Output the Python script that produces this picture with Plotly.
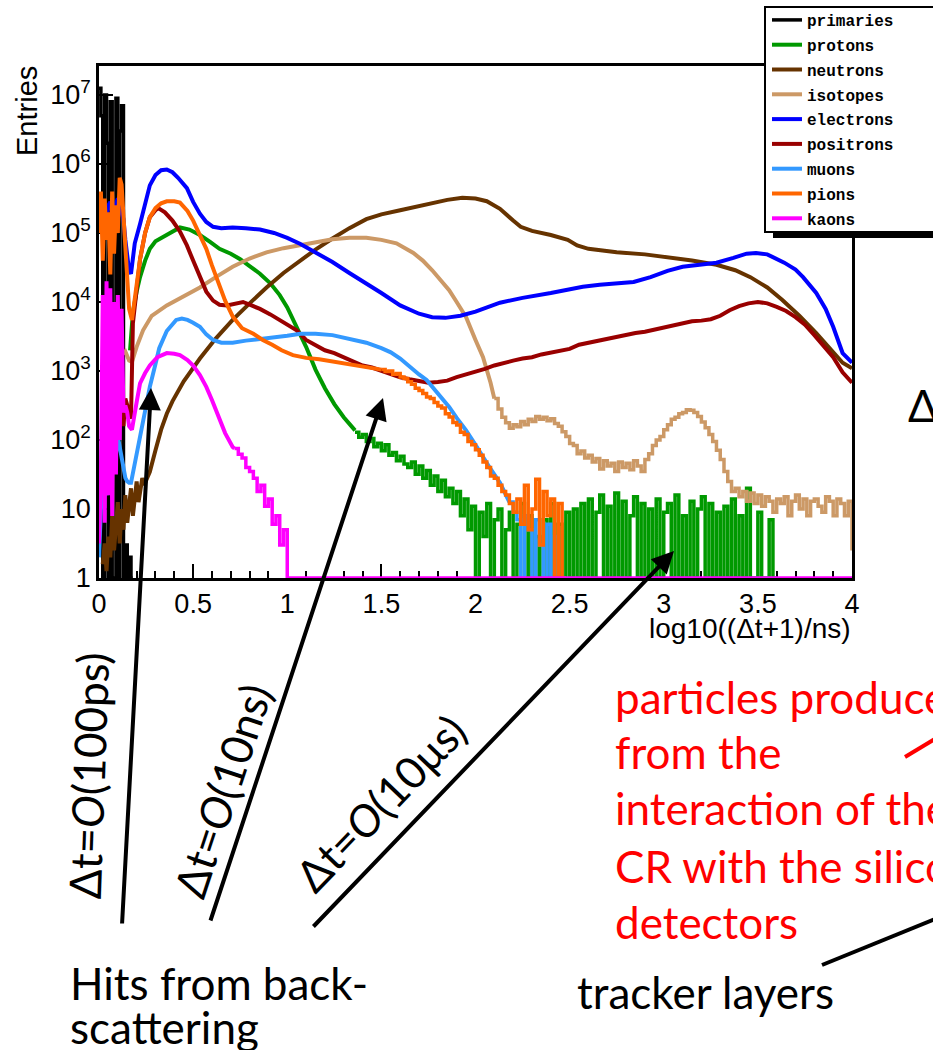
import plotly.graph_objects as go

# ---------------- data ----------------
# main curves: x = log10((dt+1)/ns), values = log10(Entries)
primaries_x = [0.00, 0.01, 0.02, 0.03, 0.04, 0.05, 0.06, 0.07, 0.08, 0.09, 0.10, 0.11, 0.12, 0.13, 0.14, 0.15, 0.16, 0.17, 0.18]
primaries_entries = [1.25e7, 5e6, 1, 1.0e7, 2e6, 1, 8e6, 1, 1, 9e6, 1, 3e6, 7e6, 1, 3, 1, 2, 1, 1]

electrons_x = [0.00, 0.01, 0.02, 0.03, 0.04, 0.05, 0.06, 0.07, 0.08, 0.09, 0.10, 0.11, 0.12, 0.13, 0.14, 0.15, 0.16, 0.17,
               0.19, 0.218, 0.245, 0.27, 0.30, 0.33, 0.36, 0.39, 0.42, 0.467, 0.50, 0.536, 0.57, 0.606, 0.65, 0.71, 0.78, 0.855, 0.93, 1.00,
               1.07, 1.15, 1.24, 1.33, 1.42, 1.50, 1.60, 1.70, 1.77, 1.84, 1.92, 2.00,
               2.13, 2.25, 2.40, 2.57, 2.66, 2.75, 2.84, 2.93, 3.02, 3.10,
               3.20, 3.28, 3.37, 3.44, 3.49, 3.55, 3.64, 3.70, 3.74, 3.81, 3.86, 3.90, 3.95, 4.00]
electrons_log = [5.15, 5.30, 5.35, 5.20, 5.25, 5.40, 5.45, 5.30, 5.35, 5.45, 5.50, 5.40, 5.30, 5.20, 4.90, 4.70, 4.45, 4.41,
                 4.85, 5.13, 5.45, 5.69, 5.84, 5.91, 5.92, 5.88, 5.80, 5.65, 5.45, 5.28, 5.16, 5.09, 5.07, 5.08, 5.07, 5.05, 5.00, 4.93,
                 4.84, 4.72, 4.58, 4.42, 4.27, 4.13, 3.95, 3.83, 3.78, 3.77, 3.80, 3.86,
                 3.99, 4.06, 4.13, 4.22, 4.25, 4.27, 4.29, 4.36, 4.45, 4.51,
                 4.55, 4.57, 4.64, 4.70, 4.71, 4.69, 4.57, 4.47, 4.36, 4.13, 3.90, 3.64, 3.26, 3.12]

neutrons_x = [0.02, 0.03, 0.04, 0.05, 0.06, 0.07, 0.08, 0.09, 0.10, 0.11, 0.12, 0.13, 0.14, 0.15, 0.16, 0.17, 0.18, 0.19, 0.20, 0.21, 0.22, 0.23, 0.24,
              0.27, 0.30, 0.33, 0.36, 0.39, 0.45, 0.536, 0.62, 0.71, 0.80, 0.89, 0.98,
              1.07, 1.15, 1.24, 1.33, 1.42, 1.50, 1.60, 1.70, 1.77, 1.85, 1.93, 2.00,
              2.06, 2.13, 2.20, 2.24, 2.30, 2.40, 2.49, 2.54, 2.60, 2.75, 2.90, 3.02,
              3.15, 3.28, 3.38, 3.46, 3.55, 3.63, 3.72, 3.81, 3.88, 3.95, 4.00]
neutrons_log = [0.2, 0.5, 0.1, 0.6, 0.3, 0.9, 0.4, 0.8, 1.1, 0.5, 1.0, 0.7, 1.2, 0.8, 1.1, 1.3, 0.9, 1.2, 1.4, 1.1, 1.3, 1.45, 1.35,
                1.54, 1.85, 2.15, 2.38, 2.56, 2.85, 3.18, 3.47, 3.74, 3.98, 4.21, 4.42,
                4.60, 4.76, 4.92, 5.07, 5.20, 5.27, 5.33, 5.39, 5.43, 5.48, 5.51, 5.50,
                5.46, 5.35, 5.18, 5.09, 5.03, 4.97, 4.90, 4.82, 4.77, 4.72, 4.69, 4.65,
                4.60, 4.54, 4.46, 4.36, 4.21, 4.03, 3.80, 3.55, 3.33, 3.12, 3.04]

isotopes_x = [0.10, 0.11, 0.12, 0.13, 0.14, 0.15, 0.16,
              0.175, 0.20, 0.234, 0.28, 0.36, 0.45, 0.536, 0.62, 0.71, 0.80, 0.89, 0.98,
              1.07, 1.15, 1.24, 1.33, 1.42, 1.50, 1.58, 1.67, 1.72, 1.77, 1.82, 1.86,
              1.90, 1.95, 2.00, 2.04, 2.08, 2.10]
isotopes_log = [3.40, 3.30, 3.35, 3.25, 3.28, 3.20, 3.15,
                3.13, 3.35, 3.59, 3.80, 3.95, 4.08, 4.21, 4.36, 4.51, 4.63, 4.72, 4.78,
                4.83, 4.87, 4.91, 4.93, 4.93, 4.90, 4.85, 4.71, 4.60, 4.46, 4.31, 4.17,
                4.00, 3.78, 3.45, 3.20, 2.83, 2.60]
# noisy tail (Entries per bin, bins of 0.02 starting at 2.10)
isotopes_tail_start = 2.10
isotopes_tail = [398, 282, 214, 178, 148, 166, 155, 186, 166, 200, 186, 219, 200, 214, 190, 204, 174, 158, 132, 112,
                 89, 83, 63, 69, 55, 60, 48, 54, 38, 50, 42, 46, 35, 48, 40, 46, 37, 50, 42, 35,
                 52, 63, 83, 100, 112, 141, 166, 200, 214, 240, 251, 275, 269, 251, 219, 182, 151, 120, 95, 71,
                 52, 35, 25, 18, 20, 15, 18, 13, 17, 12, 16, 11, 15, 13, 9, 14, 12, 15, 8, 13,
                 16, 10, 14, 8, 13, 14, 11, 9, 15, 13, 8, 14, 12, 8, 13, 2.5]

protons_x = [0.165, 0.18, 0.20, 0.218, 0.245, 0.27, 0.30, 0.36, 0.43, 0.48, 0.536, 0.59, 0.64, 0.70, 0.75,
             0.80, 0.855, 0.91, 0.96, 1.00, 1.05, 1.10, 1.15, 1.20, 1.25, 1.30, 1.36]
protons_log = [3.30, 3.85, 4.15, 4.36, 4.60, 4.77, 4.88, 4.97, 5.08, 5.05, 4.97, 4.87, 4.77, 4.70, 4.62,
               4.52, 4.41, 4.27, 4.10, 3.92, 3.64, 3.35, 3.02, 2.75, 2.52, 2.33, 2.14]
protons_tail_start = 1.36
protons_tail = [130, 110, 120, 95, 105, 80, 90, 70, 85, 60,
                66, 50, 58, 45, 40, 48, 32, 42, 28, 36,
                22, 30, 18, 26, 15, 20, 12, 18, 8, 14,
                5, 11, 1, 9, 4, 12, 1, 7, 10, 1,
                5, 9, 1, 6, 12, 1, 8, 1, 4, 1,
                7, 1, 12, 1, 6, 1, 9, 1, 10, 1,
                12, 1, 14, 1, 9, 16, 1, 11, 1, 17,
                1, 13, 1, 8, 15, 1, 12, 1, 10, 1,
                14, 1, 9, 12, 1, 16, 1, 8, 1, 13,
                1, 10, 15, 1, 12, 1, 9, 1, 11, 1,
                14, 1, 8, 1, 20, 1, 1, 9, 1, 1,
                7, 1, 1]

positrons_x = [0.05, 0.06, 0.07, 0.08, 0.09, 0.10, 0.11, 0.12, 0.13, 0.14, 0.15, 0.16, 0.17,
               0.18, 0.20, 0.218, 0.245, 0.27, 0.30, 0.315, 0.35, 0.39, 0.43,
               0.467, 0.50, 0.536, 0.57, 0.606, 0.64, 0.68, 0.72, 0.765, 0.81, 0.855, 0.91, 0.96,
               1.00, 1.05, 1.10, 1.15, 1.20, 1.25, 1.30, 1.35, 1.40, 1.45,
               1.50, 1.55, 1.60, 1.65, 1.70, 1.75, 1.80, 1.85, 1.90, 1.95,
               2.00, 2.05, 2.10, 2.15, 2.20, 2.25, 2.30, 2.35, 2.40, 2.45,
               2.50, 2.55, 2.60, 2.65, 2.70, 2.75, 2.80, 2.85, 2.90, 2.95,
               3.00, 3.05, 3.10, 3.15, 3.20, 3.25, 3.30, 3.35, 3.40, 3.45,
               3.50, 3.55, 3.60, 3.65, 3.70, 3.75, 3.80, 3.85, 3.90, 3.95, 4.00]
positrons_log = [1.8, 2.0, 2.2, 1.9, 2.5, 2.3, 2.4, 2.6, 2.2, 2.6, 2.5, 2.4, 2.31,
                 3.69, 4.25, 4.62, 5.00, 5.23, 5.33, 5.36, 5.30, 5.18, 5.02,
                 4.82, 4.60, 4.36, 4.15, 4.02, 3.96, 3.95, 3.98, 4.00, 3.95, 3.90, 3.82, 3.74,
                 3.68, 3.59, 3.45, 3.38, 3.30, 3.26, 3.20, 3.14, 3.08, 3.05,
                 3.00, 2.95, 2.91, 2.88, 2.85, 2.83, 2.84, 2.86, 2.91, 2.95,
                 2.98, 3.03, 3.08, 3.12, 3.15, 3.18, 3.20, 3.24, 3.27, 3.29,
                 3.32, 3.38, 3.41, 3.44, 3.46, 3.49, 3.52, 3.55, 3.57, 3.60,
                 3.63, 3.66, 3.69, 3.72, 3.73, 3.75, 3.80, 3.88, 3.94, 3.98,
                 4.00, 3.98, 3.93, 3.87, 3.78, 3.67, 3.52, 3.35, 3.20, 2.98, 2.83]

muons_x = [0.00, 0.01, 0.02, 0.03, 0.04, 0.05, 0.06, 0.07, 0.08, 0.09, 0.10, 0.11, 0.12, 0.13, 0.14, 0.15, 0.16,
           0.17, 0.19, 0.218, 0.245, 0.27, 0.30, 0.32, 0.36, 0.41, 0.44,
           0.47, 0.50, 0.536, 0.57, 0.606, 0.65, 0.71, 0.78, 0.855, 0.93,
           1.00, 1.07, 1.15, 1.24, 1.33, 1.42, 1.50, 1.55, 1.60, 1.65,
           1.70, 1.74, 1.77, 1.80, 1.83, 1.86, 1.90, 1.95, 2.00, 2.04,
           2.08, 2.13, 2.18]
muons_log = [0.3, 1.0, 1.3, 1.5, 1.2, 1.7, 1.9, 1.6, 2.0, 1.8, 2.05, 1.9, 1.7, 1.6, 1.45, 1.4, 1.38,
             1.38, 1.65, 2.05, 2.45, 2.77, 3.10, 3.33, 3.58, 3.74, 3.76,
             3.74, 3.70, 3.64, 3.53, 3.45, 3.41, 3.41, 3.44, 3.46, 3.49,
             3.51, 3.54, 3.54, 3.52, 3.47, 3.41, 3.33, 3.27, 3.18, 3.06,
             2.95, 2.87, 2.77, 2.66, 2.58, 2.48, 2.32, 2.14, 1.93, 1.75,
             1.58, 1.38, 1.10]
muons_tail_start = 2.18
muons_tail = [12.6, 9, 7, 1, 8, 5, 1, 7, 3, 1, 6, 1, 4, 1, 1, 1]

pions_x = [0.00, 0.01, 0.02, 0.03, 0.04, 0.05, 0.06, 0.07, 0.08, 0.09, 0.10, 0.11, 0.12, 0.13, 0.14, 0.15, 0.16,
           0.175, 0.20, 0.218, 0.245, 0.27, 0.30, 0.33, 0.36, 0.40, 0.43,
           0.47, 0.50, 0.536, 0.57, 0.60, 0.64, 0.67, 0.71, 0.76, 0.82,
           0.87, 0.92, 0.97, 1.03, 1.10, 1.17, 1.24, 1.33, 1.42, 1.50]
pions_log = [5.0, 5.6, 4.6, 5.5, 4.9, 5.3, 4.4, 5.6, 4.7, 5.4, 5.0, 5.8, 5.7, 5.2, 4.7, 4.2, 3.9,
             3.74, 4.25, 4.62, 5.00, 5.23, 5.36, 5.43, 5.46, 5.46, 5.44,
             5.32, 5.18, 4.98, 4.77, 4.53, 4.26, 4.02, 3.79, 3.62, 3.54,
             3.45, 3.38, 3.30, 3.23, 3.19, 3.17, 3.14, 3.10, 3.06, 3.02]
pions_tail_start = 1.50
pions_tail = [1050, 980, 1000, 900, 920, 820, 780, 700, 640, 560,
              520, 470, 420, 400, 350, 310, 290, 240, 215, 180,
              165, 130, 120, 95, 85, 72, 60, 48, 40, 30,
              28, 22, 18, 16, 12, 9, 14, 6, 22, 5,
              10, 27, 3, 18, 8, 14, 1, 12, 1, 1]

kaons_x = [0.00, 0.01, 0.02, 0.03, 0.04, 0.05, 0.06, 0.07, 0.08, 0.09, 0.10, 0.11, 0.12, 0.13, 0.14, 0.15, 0.16,
           0.175, 0.20, 0.218, 0.245, 0.27, 0.31, 0.36, 0.40, 0.43, 0.47,
           0.50, 0.536, 0.57, 0.60, 0.64, 0.67, 0.71, 0.72]
kaons_log = [0.5, 1.5, 4.1, 0.8, 4.3, 1.2, 4.2, 0.9, 4.0, 1.5, 4.1, 2.0, 3.9, 2.4, 2.5, 2.4, 2.2,
             2.15, 2.55, 2.82, 2.97, 3.08, 3.20, 3.26, 3.25, 3.23, 3.16,
             3.08, 2.94, 2.77, 2.58, 2.31, 2.10, 1.90, 1.875]
kaons_tail_start = 0.72
kaons_tail = [75, 62, 55, 40, 35, 28, 18, 22, 11, 14, 6, 8, 3, 5, 1]
kaons_empty_until = 4.0   # empty bins (drawn on the axis) up to the end of the range

x_ticks = [0, 0.5, 1, 1.5, 2, 2.5, 3, 3.5, 4]
x_ticktext = ["0", "0.5", "1", "1.5", "2", "2.5", "3", "3.5", "4"]
y_ticks = [1, 10, 1e2, 1e3, 1e4, 1e5, 1e6, 1e7]
y_ticktext = ["1", "10", "10<sup>2</sup>", "10<sup>3</sup>", "10<sup>4</sup>", "10<sup>5</sup>",
              "10<sup>6</sup>", "10<sup>7</sup>"]

COL = {"primaries": "#000000", "protons": "#009900", "neutrons": "#663300", "isotopes": "#cc9966",
       "electrons": "#0000ff", "positrons": "#990000", "muons": "#3399ff", "pions": "#ff6600",
       "kaons": "#ff00ff"}

# ---------------- figure ----------------
W, H = 933, 1050
ML, MR, MT, MB = 99, 81, 66, 472
PW, PH = W - ML - MR, H - MT - MB


def px(x):
    return (x - ML) / PW


def py(y):
    return (H - MB - y) / PH


def tail_x(start, n):
    return [round(start + 0.02 * i, 2) for i in range(n)]


fig = go.Figure()
LW = 4
LW_TAIL = 3.5


def add_main(name, xs, logs, show=True, group=None):
    assert len(xs) == len(logs), name
    fig.add_trace(go.Scatter(x=xs, y=[10 ** v for v in logs], mode="lines", name=name,
                             line=dict(color=COL[name], width=LW), showlegend=show,
                             legendgroup=group or name))


def add_tail(name, start, vals):
    fig.add_trace(go.Scatter(x=tail_x(start, len(vals)), y=vals, mode="lines", name=name,
                             line=dict(color=COL[name], width=LW_TAIL, shape="hv"), showlegend=False,
                             legendgroup=name))


fig.add_trace(go.Scatter(x=primaries_x, y=primaries_entries, mode="lines", name="primaries",
                         line=dict(color=COL["primaries"], width=3.5, shape="hv"), legendgroup="primaries"))
add_main("protons", protons_x, protons_log)
add_tail("protons", protons_tail_start, protons_tail)
add_main("neutrons", neutrons_x, neutrons_log)
add_main("isotopes", isotopes_x, isotopes_log)
add_tail("isotopes", isotopes_tail_start, isotopes_tail)
add_main("electrons", electrons_x, electrons_log)
add_main("positrons", positrons_x, positrons_log)
add_main("muons", muons_x, muons_log)
add_tail("muons", muons_tail_start, muons_tail)
add_main("pions", pions_x, pions_log)
add_tail("pions", pions_tail_start, pions_tail)
add_main("kaons", kaons_x, kaons_log)
kx = tail_x(kaons_tail_start, len(kaons_tail)) + [kaons_empty_until]
fig.add_trace(go.Scatter(x=kx, y=kaons_tail + [1], mode="lines", name="kaons",
                         line=dict(color=COL["kaons"], width=LW_TAIL, shape="hv"), showlegend=False,
                         legendgroup="kaons"))

axis_font = dict(family="Liberation Sans, Arial, sans-serif", size=27, color="black")
fig.update_xaxes(range=[0, 4], tickvals=x_ticks, ticktext=x_ticktext, ticks="inside", ticklen=14,
                 tickwidth=2, tickcolor="black", showline=True, linecolor="black", linewidth=2.5,
                 mirror=True, showgrid=False, zeroline=False, tickfont=axis_font, layer="below traces",
                 minor=dict(ticks="inside", ticklen=7, tickwidth=1.5, tickcolor="black", tick0=0, dtick=0.1))
fig.update_yaxes(type="log", range=[0, 7.42], tickvals=y_ticks, ticktext=y_ticktext, ticks="inside",
                 ticklen=14, tickwidth=2, tickcolor="black", showline=True, linecolor="black",
                 linewidth=2.5, mirror=True, showgrid=False, zeroline=False, tickfont=axis_font,
                 layer="below traces")

CAL = "Lato, Carlito, Calibri, sans-serif"
ann = []


def text_at(txt, x, y, size, color="black", family=CAL, angle=0, xanchor="center"):
    ann.append(dict(text=txt, x=px(x), y=py(y), xref="paper", yref="paper", xanchor=xanchor,
                    yanchor="middle", textangle=angle, showarrow=False,
                    font=dict(family=family, size=size, color=color)))


text_at("Entries", 27, 111, 29, family="Liberation Sans, Arial", angle=-90)
text_at("log10((Δt+1)/ns)", 853, 628, 28, family="Liberation Sans, Arial", xanchor="right")
# arrows (tail pixel -> tip pixel)
for (x0, y0, x1, y1) in [(122, 925, 151, 388), (210, 922, 383, 398), (312, 928, 674, 551)]:
    ann.append(dict(text="", x=px(x1), y=py(y1), ax=x0 - x1, ay=y0 - y1, xref="paper", yref="paper",
                    axref="pixel", ayref="pixel", showarrow=True, arrowhead=2, arrowsize=1.1,
                    arrowwidth=4, arrowcolor="black", standoff=0))
text_at("Δt=<i>O</i>(100ps)", 88, 776, 44, angle=-88)
text_at("Δt=<i>O</i>(10ns)", 222, 791, 44, angle=-71.7)
text_at("Δt=<i>O</i>(10μs)", 380, 803, 44, angle=-46.2)
text_at("Hits from back-", 68, 983, 44, xanchor="left")
text_at("scattering", 68, 1027, 44, xanchor="left")
for txt, yy in [("particles produced", 697), ("from the", 752), ("interaction of the", 808),
                ("CR with the silicon", 866), ("detectors", 922)]:
    text_at(txt, 613, yy, 44, color="#ff0000", xanchor="left")
text_at("tracker layers", 575, 992, 44, xanchor="left")
text_at("Δt", 906, 405, 44, xanchor="left")

shapes = [
    dict(type="rect", xref="paper", yref="paper", x0=px(765), x1=px(950), y0=py(7), y1=py(232),
         fillcolor="white", line=dict(color="black", width=2), layer="above"),
    dict(type="rect", xref="paper", yref="paper", x0=px(773), x1=px(950), y0=py(232), y1=py(238),
         fillcolor="black", line=dict(width=0), layer="above"),
    dict(type="line", xref="paper", yref="paper", x0=px(822), y0=py(965), x1=px(945), y1=py(915),
         line=dict(color="black", width=4)),
    dict(type="line", xref="paper", yref="paper", x0=px(905), y0=py(757), x1=px(945), y1=py(733),
         line=dict(color="#ff0000", width=4)),
]

fig.update_layout(
    width=W, height=H, margin=dict(l=ML, r=MR, t=MT, b=MB, autoexpand=False),
    paper_bgcolor="white", plot_bgcolor="white", hovermode=False,
    annotations=ann, shapes=shapes,
    legend=dict(x=px(767), y=py(3), xanchor="left", yanchor="top", xref="paper", yref="paper",
                bgcolor="rgba(0,0,0,0)", borderwidth=0, itemwidth=30, tracegroupgap=1,
                font=dict(family="Liberation Mono, Courier New, monospace", size=16, color="black",
                          weight="bold")),
)

fig.write_html("out.html", config={"displayModeBar": False})
